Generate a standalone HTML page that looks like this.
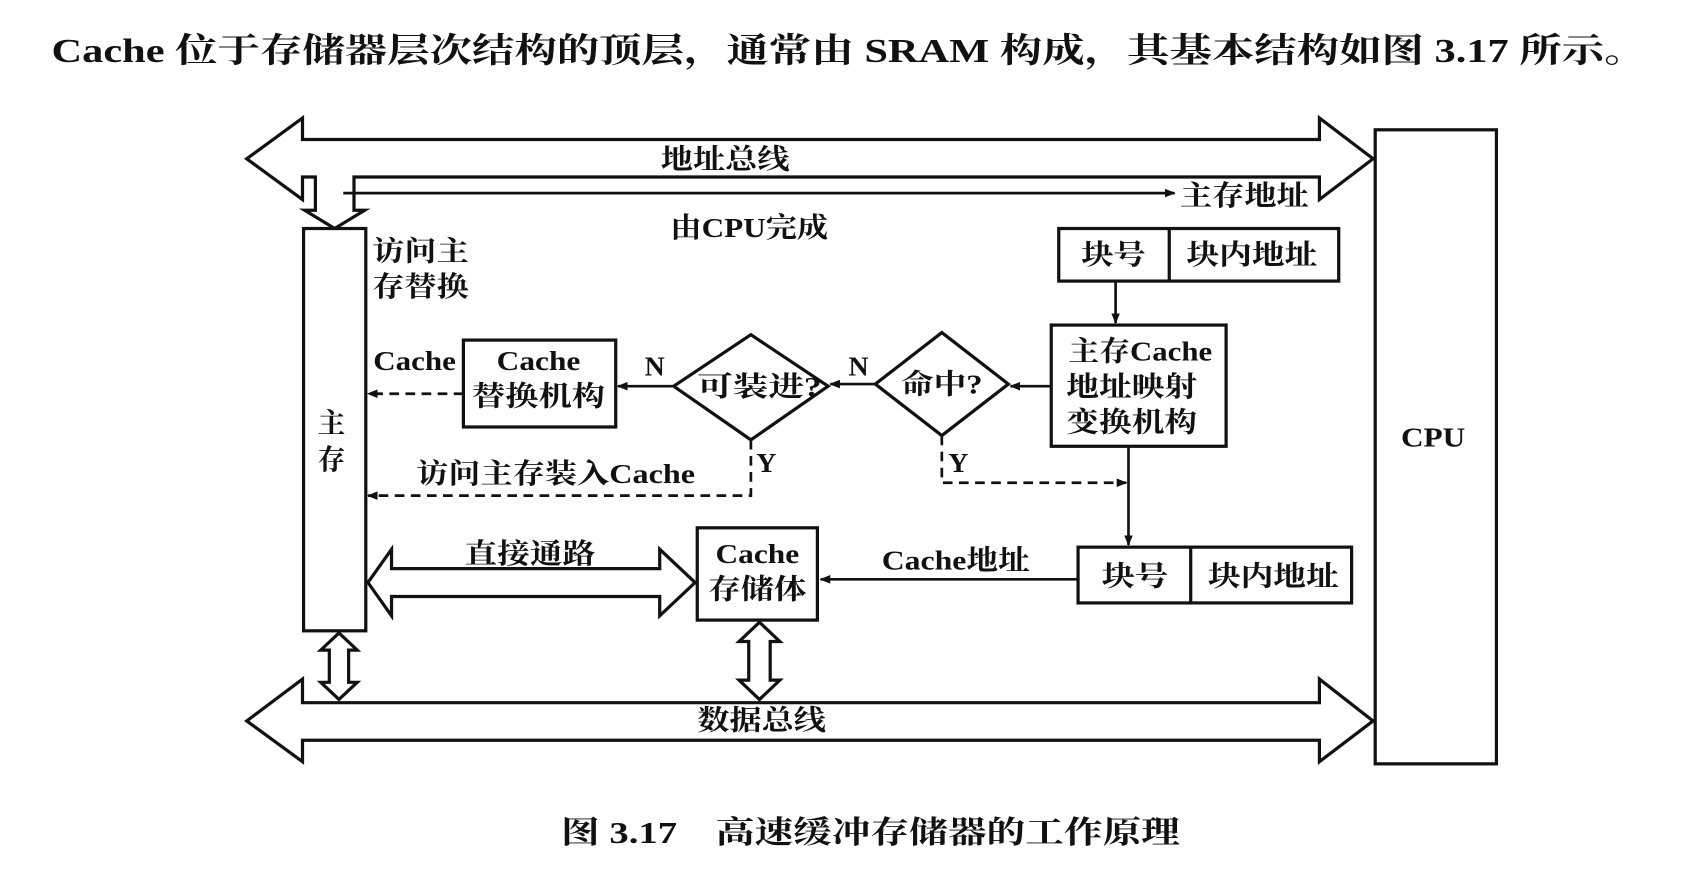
<!DOCTYPE html>
<html><head><meta charset="utf-8"><style>
html,body{margin:0;padding:0;background:#fff;}
svg{display:block;}
text{font-family:"Liberation Serif","Noto Serif CJK SC","Noto Sans CJK SC",serif;font-weight:bold;fill:#111;}
</style></head><body>
<svg width="1682" height="884" viewBox="0 0 1568 824" preserveAspectRatio="none" xmlns="http://www.w3.org/2000/svg">
<defs>
<marker id="ah" markerWidth="10" markerHeight="8" refX="9" refY="4" orient="auto" markerUnits="userSpaceOnUse"><path d="M0,0 L10,4 L0,8 Z" fill="#111"/></marker>
</defs>
<text x="48" y="58" font-size="32" textLength="1487" lengthAdjust="spacingAndGlyphs">Cache 位于存储器层次结构的顶层，通常由 SRAM 构成，其基本结构如图 3.17 所示。</text>
<g stroke="#111" stroke-width="3" fill="none">
<path d="M282,130 L1230,130 L1230,110 L1280,148 L1230,186 L1230,165 L330,165 L330,196 L340,196 L312,213 L284,196 L294,196 L294,165 L282,165 L282,186 L230,148 L282,110 Z" fill="#fff"/>
<line x1="320" y1="180" x2="1095" y2="180" stroke-width="2.5" marker-end="url(#ah)"/>
<rect x="283" y="213" width="58" height="375" fill="#fff"/>
<rect x="1282" y="121" width="113" height="591"/>
<rect x="987" y="213" width="261" height="49"/>
<line x1="1090" y1="213" x2="1090" y2="262"/>
<line x1="1040" y1="262" x2="1040" y2="301" stroke-width="2.5" marker-end="url(#ah)"/>
<rect x="980" y="303" width="163" height="113"/>
<line x1="980" y1="360" x2="942" y2="360" stroke-width="2.5" marker-end="url(#ah)"/>
<path d="M878,310 L940,358 L878,406 L816,358 Z"/>
<line x1="816" y1="358" x2="774" y2="358" stroke-width="2.5" marker-end="url(#ah)"/>
<path d="M700,312 L772,360 L700,410 L628,360 Z"/>
<line x1="628" y1="360" x2="576" y2="360" stroke-width="2.5" marker-end="url(#ah)"/>
<rect x="432" y="317" width="142" height="81"/>
<line x1="432" y1="367" x2="343" y2="367" stroke-width="2.5" stroke-dasharray="9,6" marker-end="url(#ah)"/>
<polyline points="700,410 700,462 343,462" stroke-width="2.5" stroke-dasharray="9,6" marker-end="url(#ah)"/>
<polyline points="878,406 878,450 1050,450" stroke-width="2.5" stroke-dasharray="9,6" marker-end="url(#ah)"/>
<line x1="1052" y1="416" x2="1052" y2="508" stroke-width="2.5" marker-end="url(#ah)"/>
<rect x="1005" y="510" width="255" height="52"/>
<line x1="1110" y1="510" x2="1110" y2="562"/>
<line x1="1005" y1="540" x2="765" y2="540" stroke-width="2.5" marker-end="url(#ah)"/>
<rect x="650" y="492" width="112" height="86"/>
<path d="M365,530 L615,530 L615,512 L648,543 L615,574 L615,556 L365,556 L365,574 L343,543 L365,512 Z" fill="#fff"/>
<path d="M316,590 L333,606 L325,606 L325,636 L333,636 L316,652 L299,636 L307,636 L307,606 L299,606 Z" fill="#fff"/>
<path d="M708,580 L727,598 L718,598 L718,634 L727,634 L708,652 L689,634 L698,634 L698,598 L689,598 Z" fill="#fff"/>
<path d="M282,655 L1230,655 L1230,633 L1280,672 L1230,710 L1230,690 L282,690 L282,710 L230,672 L282,633 Z" fill="#fff"/>
</g>
<g font-size="26">
<text x="616" y="157" textLength="120" lengthAdjust="spacingAndGlyphs">地址总线</text>
<text x="1100" y="191" textLength="120" lengthAdjust="spacingAndGlyphs">主存地址</text>
<text x="625" y="221" textLength="147" lengthAdjust="spacingAndGlyphs">由CPU完成</text>
<text x="347" y="243" textLength="90" lengthAdjust="spacingAndGlyphs">访问主</text>
<text x="347" y="276" textLength="90" lengthAdjust="spacingAndGlyphs">存替换</text>
<text x="1008" y="246" textLength="60" lengthAdjust="spacingAndGlyphs">块号</text>
<text x="1106" y="246" textLength="122" lengthAdjust="spacingAndGlyphs">块内地址</text>
<text x="996" y="336" textLength="134" lengthAdjust="spacingAndGlyphs">主存Cache</text>
<text x="994" y="369" textLength="122" lengthAdjust="spacingAndGlyphs">地址映射</text>
<text x="994" y="402" textLength="122" lengthAdjust="spacingAndGlyphs">变换机构</text>
<text x="840" y="367" textLength="76" lengthAdjust="spacingAndGlyphs">命中?</text>
<text x="650" y="369" textLength="116" lengthAdjust="spacingAndGlyphs">可装进?</text>
<text x="791" y="350">N</text>
<text x="601" y="350">N</text>
<text x="463" y="345" textLength="78" lengthAdjust="spacingAndGlyphs">Cache</text>
<text x="440" y="378" textLength="124" lengthAdjust="spacingAndGlyphs">替换机构</text>
<text x="348" y="345" textLength="77" lengthAdjust="spacingAndGlyphs">Cache</text>
<text x="296" y="403">主</text>
<text x="296" y="437">存</text>
<text x="705" y="440">Y</text>
<text x="884" y="440">Y</text>
<text x="388" y="450" textLength="260" lengthAdjust="spacingAndGlyphs">访问主存装入Cache</text>
<text x="433" y="525" textLength="122" lengthAdjust="spacingAndGlyphs">直接通路</text>
<text x="667" y="525" textLength="78" lengthAdjust="spacingAndGlyphs">Cache</text>
<text x="660" y="558" textLength="92" lengthAdjust="spacingAndGlyphs">存储体</text>
<text x="822" y="531" textLength="138" lengthAdjust="spacingAndGlyphs">Cache地址</text>
<text x="1027" y="546" textLength="62" lengthAdjust="spacingAndGlyphs">块号</text>
<text x="1126" y="546" textLength="122" lengthAdjust="spacingAndGlyphs">块内地址</text>
<text x="1306" y="416" textLength="60" lengthAdjust="spacingAndGlyphs">CPU</text>
<text x="650" y="680" textLength="120" lengthAdjust="spacingAndGlyphs">数据总线</text>
<text x="523" y="786" font-size="29" textLength="577" lengthAdjust="spacingAndGlyphs">图 3.17　高速缓冲存储器的工作原理</text>
</g>
</svg>
</body></html>
